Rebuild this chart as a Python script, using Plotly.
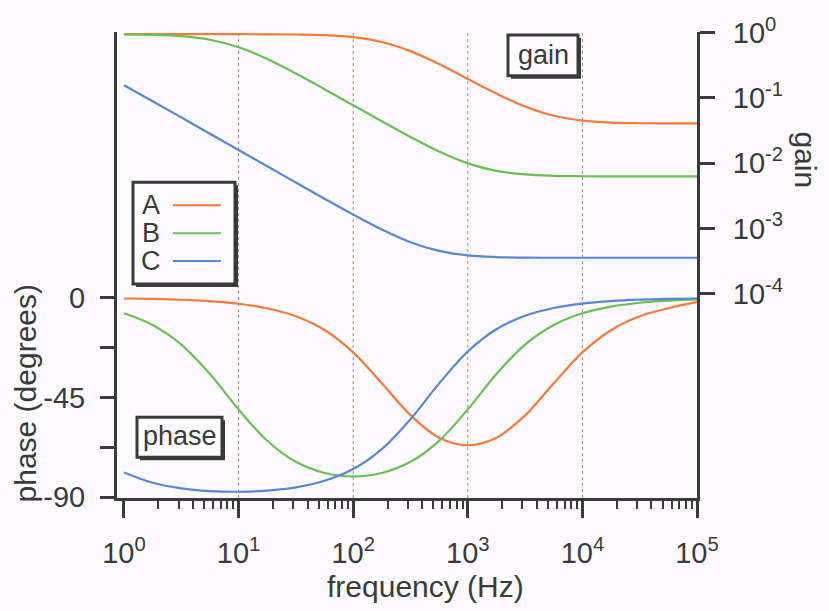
import plotly.graph_objects as go

# ---------------- data ----------------
freq = [1, 1.778, 3.162, 5.623, 10, 17.78, 31.62, 56.23, 100, 177.8, 316.2,
        562.3, 1000, 1778, 3162, 5623, 10000, 17780, 31620, 56230, 100000]

gain_A = [0.944, 0.944, 0.944, 0.943, 0.943, 0.940, 0.933, 0.912, 0.849, 0.716, 0.519,
          0.329, 0.195, 0.1164, 0.0736, 0.0532, 0.0449, 0.0418, 0.0408, 0.0406, 0.0405]
gain_B = [0.938, 0.923, 0.880, 0.776, 0.596, 0.393, 0.2355, 0.1355, 0.0771, 0.0437, 0.0251,
          0.01503, 0.00991, 0.00760, 0.00671, 0.00640, 0.00630, 0.00627, 0.00627, 0.00627, 0.00627]
gain_C = [0.1563, 0.0889, 0.0502, 0.0282, 0.0159, 0.00895, 0.00505, 0.00285, 0.00163, 0.000962,
          0.000615, 0.000453, 0.000387, 0.000365, 0.000357, 0.000356, 0.000356, 0.000356,
          0.000356, 0.000356, 0.000356]

phase_A = [-0.27, -0.47, -0.84, -1.49, -2.65, -4.70, -8.31, -14.5, -24.6, -38.6, -53.0,
           -63.2, -66.6, -63.2, -53.1, -38.6, -24.6, -14.6, -8.3, -4.7, -1.8]
phase_B = [-6.95, -12.24, -21.08, -34.38, -50.4, -64.57, -74.1, -79.14, -80.7, -79.15, -74.1,
           -64.6, -50.4, -34.4, -21.1, -12.25, -6.95, -3.92, -2.2, -1.24, -0.7]
phase_C = [-78.9, -83.54, -86.09, -87.3, -87.62, -87.11, -85.63, -82.68, -77.36, -68.38, -54.88,
           -38.65, -24.22, -14.19, -8.10, -4.57, -2.58, -1.45, -0.82, -0.46, -0.26]

series_names = ["A", "B", "C"]
colors = ["#F47B3E", "#6DBE58", "#5B87D2"]

x_tickvals = [1, 10, 100, 1000, 10000, 100000]
x_ticktext = ["10<sup>%d</sup>" % i for i in range(6)]
phase_tickvals = [0, -22.5, -45, -67.5, -90]
phase_ticktext = ["0", "", "-45", "", "-90"]
gain_tickvals = [1, 0.1, 0.01, 0.001, 0.0001]
gain_ticktext = ["10<sup>0</sup>", "10<sup>-1</sup>", "10<sup>-2</sup>",
                 "10<sup>-3</sup>", "10<sup>-4</sup>"]
grid_freqs = [10, 100, 1000, 10000]
minor_ticks = [m * 10 ** e for e in range(5) for m in range(2, 10)]

PHASE_RANGE = [-90.45, 120.2]
GAIN_RANGE = [-7.127, 0.008]

# ---------------- layout helpers ----------------
W_PX, H_PX = 829, 611
L, R, T, B = 117, 697, 30, 498
INK = "#3a3a3a"
BG = "#fcfafc"
FONT = "Liberation Sans, Arial, sans-serif"


def xp(px):
    return (px - L) / (R - L)


def yp(py):
    return (B - py) / (B - T)


fig = go.Figure()

# dotted vertical grid lines
gx, gy = [], []
for f in grid_freqs:
    gx += [f, f, None]
    gy += [PHASE_RANGE[0], PHASE_RANGE[1], None]
fig.add_trace(go.Scatter(x=gx, y=gy, mode="lines", yaxis="y",
                         line=dict(color="#9a9080", width=1, dash="dot"),
                         hoverinfo="skip", showlegend=False))

gains = [gain_A, gain_B, gain_C]
phases = [phase_A, phase_B, phase_C]
for name, col, g, p in zip(series_names, colors, gains, phases):
    fig.add_trace(go.Scatter(x=freq, y=g, mode="lines", yaxis="y2", name=name,
                             line=dict(color=col, width=2.2, shape="spline"),
                             showlegend=False))
    fig.add_trace(go.Scatter(x=freq, y=p, mode="lines", yaxis="y", name=name,
                             line=dict(color=col, width=2.2, shape="spline"),
                             showlegend=False))

shapes = []
annotations = []


def box(x0, y0, x1, y1):
    shapes.append(dict(type="rect", xref="paper", yref="paper", layer="above",
                       x0=xp(x0 + 3), x1=xp(x1 + 3), y0=yp(y0 + 3), y1=yp(y1 + 3),
                       fillcolor=INK, line=dict(width=0)))
    shapes.append(dict(type="rect", xref="paper", yref="paper", layer="above",
                       x0=xp(x0), x1=xp(x1), y0=yp(y0), y1=yp(y1),
                       fillcolor=BG, line=dict(color=INK, width=3)))


# legend box
box(133, 181, 235, 283)
for i, (name, col) in enumerate(zip(series_names, colors)):
    yy = 204 + 28 * i
    annotations.append(dict(text=name, xref="paper", yref="paper", x=xp(151), y=yp(yy),
                            xanchor="center", yanchor="middle", showarrow=False,
                            font=dict(size=27, color=INK, family=FONT)))
    shapes.append(dict(type="line", xref="paper", yref="paper", layer="above",
                       x0=xp(173), x1=xp(221), y0=yp(yy), y1=yp(yy),
                       line=dict(color=col, width=2)))

# "gain" and "phase" label boxes
box(508, 33, 578, 74)
annotations.append(dict(text="gain", xref="paper", yref="paper", x=xp(543), y=yp(53),
                        xanchor="center", yanchor="middle", showarrow=False,
                        font=dict(size=27, color=INK, family=FONT)))
box(137, 417, 222, 457)
annotations.append(dict(text="phase", xref="paper", yref="paper", x=xp(180), y=yp(436),
                        xanchor="center", yanchor="middle", showarrow=False,
                        font=dict(size=27, color=INK, family=FONT)))

# axis titles
annotations.append(dict(text="frequency (Hz)", xref="paper", yref="paper", x=xp(425), y=yp(587),
                        xanchor="center", yanchor="middle", showarrow=False,
                        font=dict(size=30, color=INK, family=FONT)))
annotations.append(dict(text="phase (degrees)", xref="paper", yref="paper", x=xp(25), y=yp(393),
                        xanchor="center", yanchor="middle", showarrow=False, textangle=-90,
                        font=dict(size=30, color=INK, family=FONT)))
annotations.append(dict(text="gain", xref="paper", yref="paper", x=xp(806), y=yp(158),
                        xanchor="center", yanchor="middle", showarrow=False, textangle=90,
                        font=dict(size=30, color=INK, family=FONT)))

tickfont = dict(size=29, color=INK, family=FONT)

fig.update_layout(
    width=W_PX, height=H_PX,
    margin=dict(l=L, r=W_PX - R, t=T, b=H_PX - B),
    paper_bgcolor=BG, plot_bgcolor=BG,
    showlegend=False,
    shapes=shapes, annotations=annotations,
    xaxis=dict(type="log", range=[-0.061, 5.0], showline=True, linecolor=INK, linewidth=3,
               ticks="outside", ticklen=17, tickwidth=3, tickcolor=INK,
               tickmode="array", tickvals=x_tickvals, ticktext=x_ticktext,
               tickfont=tickfont, showgrid=False, zeroline=False, ticklabelstandoff=10,
               minor=dict(ticks="outside", ticklen=8, tickwidth=2, tickcolor=INK,
                          tickmode="array", tickvals=minor_ticks, showgrid=False)),
    yaxis=dict(range=PHASE_RANGE, showline=True, linecolor=INK, linewidth=3,
               ticks="outside", ticklen=14, tickwidth=3, tickcolor=INK,
               tickmode="array", tickvals=phase_tickvals, ticktext=phase_ticktext,
               tickfont=tickfont, showgrid=False, zeroline=False, ticklabelstandoff=9),
    yaxis2=dict(type="log", range=GAIN_RANGE, overlaying="y", side="right",
                showline=True, linecolor=INK, linewidth=3,
                ticks="outside", ticklen=15, tickwidth=3, tickcolor=INK,
                tickmode="array", tickvals=gain_tickvals, ticktext=gain_ticktext,
                tickfont=tickfont, showgrid=False, zeroline=False, ticklabelstandoff=12),
)

fig.write_html("out.html")
